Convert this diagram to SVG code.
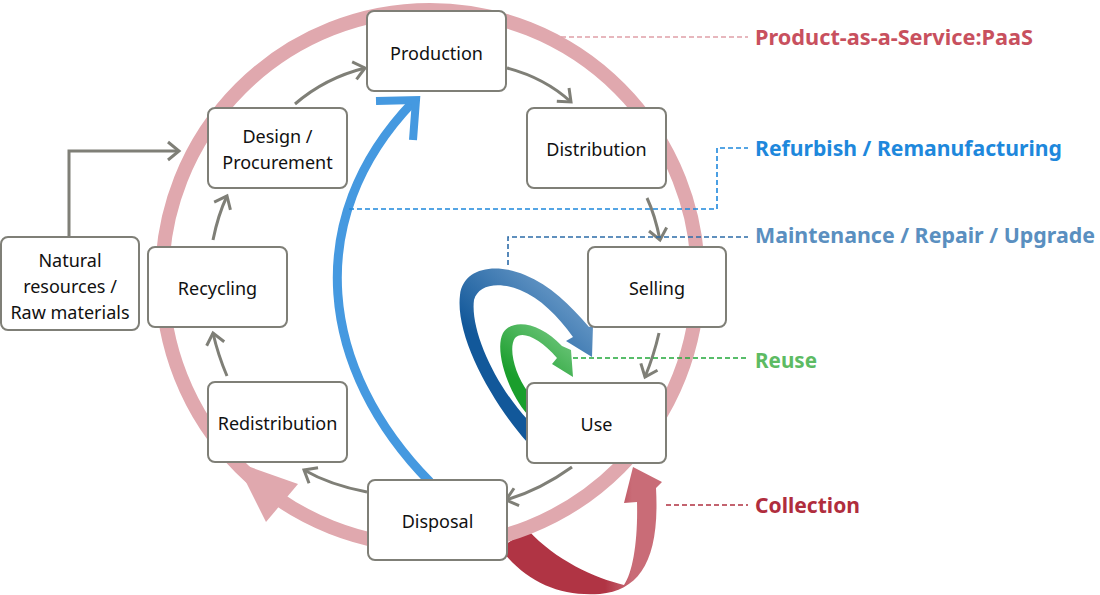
<svg xmlns="http://www.w3.org/2000/svg" width="1100" height="595" viewBox="0 0 1100 595">
<style>
.node rect{fill:#fff;stroke:#7f7f77;stroke-width:2}
.node text{font-family:"Noto Sans","Liberation Sans",sans-serif;font-size:18px;fill:#111;text-anchor:middle}
.conn{fill:none;stroke:#7f7f77;stroke-width:3;marker-end:url(#ah)}
.lbl{font-family:"Noto Sans","Liberation Sans",sans-serif;font-size:21px;font-weight:bold}
.lead{fill:none;stroke-width:1.6;stroke-dasharray:5 3}
</style>
<defs>
<marker id="ah" markerUnits="userSpaceOnUse" viewBox="-16 -12 20 24" markerWidth="20" markerHeight="24" refX="0" refY="0" orient="auto">
<path d="M-11,-9 L0,0 L-11,9" fill="none" stroke="#7f7f77" stroke-width="3"/>
</marker>
<linearGradient id="gMaint" gradientUnits="userSpaceOnUse" x1="470" y1="330" x2="525" y2="270">
<stop offset="0" stop-color="#12589a"/><stop offset="1" stop-color="#5b8fc0"/>
</linearGradient>
<linearGradient id="gReuse" gradientUnits="userSpaceOnUse" x1="505" y1="370" x2="540" y2="325">
<stop offset="0" stop-color="#1a9e2c"/><stop offset="1" stop-color="#62c070"/>
</linearGradient>
<linearGradient id="gColl" gradientUnits="userSpaceOnUse" x1="605" y1="0" x2="632" y2="0">
<stop offset="0" stop-color="#b03444"/><stop offset="1" stop-color="#c96c77"/>
</linearGradient>
</defs>

<g id="collection-arrow">
<path d="M500,548 C525,582 560,597 600,594 C640,590 660,560 656,488 L662,482 L633,467 L624,503 L637,502 C638,540 633,572 624,585 C595,578 555,560 528,530 Z" fill="url(#gColl)"/>
</g>

<g id="paas-ring">
<circle cx="430" cy="278" r="268" fill="none" stroke="#e0a8ae" stroke-width="14"/>
<polygon points="298,484 236,462 266,522" fill="#e0a8ae"/>
</g>

<g id="refurbish-arrow">
<path d="M430,482 C320,370 300,220 413,102" fill="none" stroke="#4599e0" stroke-width="9"/>
<polyline points="376,101 416,100 413,140" fill="none" stroke="#4599e0" stroke-width="8" stroke-linejoin="miter"/>
</g>

<g id="maintenance-arrow">
<path d="M527,442 C490,400 455,335 460,295 C463,268 495,262 525,275 C550,285 570,305 589,327 L593,325 L592,357 L566,341 L573,337 C558,316 540,298 520,290 C498,281 478,285 474,300 C470,330 495,385 528,420 Z" fill="url(#gMaint)"/>
</g>

<g id="reuse-arrow">
<path d="M527,414 C508,392 494,350 503,333 C512,318 540,322 562,346 L571,350 L573,377 L552,364 L557,358 C540,338 522,330 515,338 C508,348 515,375 528,392 Z" fill="url(#gReuse)"/>
</g>

<g id="connectors">
<path class="conn" d="M295,104 Q325,78 365,68"/>
<path class="conn" d="M507,68 Q545,78 571,102"/>
<path class="conn" d="M647,198 Q655,215 660,240"/>
<path class="conn" d="M659,333 Q654,355 645,377"/>
<path class="conn" d="M572,467 Q540,490 506,500"/>
<path class="conn" d="M367,492 Q330,485 304,470"/>
<path class="conn" d="M227,376 Q218,355 213,333"/>
<path class="conn" d="M213,240 Q218,215 227,196"/>
<path class="conn" d="M69,237 V151 H179"/>
</g>

<g id="leaders">
<path class="lead" stroke="#e0a0a8" d="M561,37 H748"/>
<path class="lead" stroke="#1e88dc" d="M349,209 H717 V148 H748"/>
<path class="lead" stroke="#2d6ca8" d="M508,265 V237 H748"/>
<path class="lead" stroke="#22a83a" d="M573,358 H748"/>
<path class="lead" stroke="#b03040" d="M666,505 H748"/>
</g>

<g id="node-production" class="node"><rect x="367" y="11" width="139" height="80" rx="7"/><text x="436.5" y="60">Production</text></g>
<g id="node-distribution" class="node"><rect x="527" y="108" width="139" height="80" rx="7"/><text x="596.5" y="156">Distribution</text></g>
<g id="node-design" class="node"><rect x="208" y="108" width="139" height="80" rx="7"/><text x="277.5" y="143">Design /</text><text x="277.5" y="169">Procurement</text></g>
<g id="node-selling" class="node"><rect x="588" y="247" width="138" height="80" rx="7"/><text x="657" y="295">Selling</text></g>
<g id="node-recycling" class="node"><rect x="148" y="247" width="139" height="80" rx="7"/><text x="217.5" y="295">Recycling</text></g>
<g id="node-natural" class="node"><rect x="1" y="237" width="138" height="93" rx="7"/><text x="70" y="267">Natural</text><text x="70" y="293">resources /</text><text x="70" y="319">Raw materials</text></g>
<g id="node-use" class="node"><rect x="527" y="383" width="139" height="80" rx="7"/><text x="596.5" y="431">Use</text></g>
<g id="node-redistribution" class="node"><rect x="208" y="382" width="139" height="80" rx="7"/><text x="277.5" y="430">Redistribution</text></g>
<g id="node-disposal" class="node"><rect x="368" y="480" width="139" height="80" rx="7"/><text x="437.5" y="528">Disposal</text></g>

<g id="labels">
<text class="lbl" x="755" y="45" fill="#c8505e" textLength="278" lengthAdjust="spacingAndGlyphs">Product-as-a-Service:PaaS</text>
<text class="lbl" x="755" y="156" fill="#1e88dc" textLength="307" lengthAdjust="spacingAndGlyphs">Refurbish / Remanufacturing</text>
<text class="lbl" x="755" y="243" fill="#5a8fc0" textLength="340" lengthAdjust="spacingAndGlyphs">Maintenance / Repair / Upgrade</text>
<text class="lbl" x="755" y="368" fill="#5dbb63" textLength="62" lengthAdjust="spacingAndGlyphs">Reuse</text>
<text class="lbl" x="755" y="513" fill="#b02d3d" textLength="105" lengthAdjust="spacingAndGlyphs">Collection</text>
</g>
</svg>
